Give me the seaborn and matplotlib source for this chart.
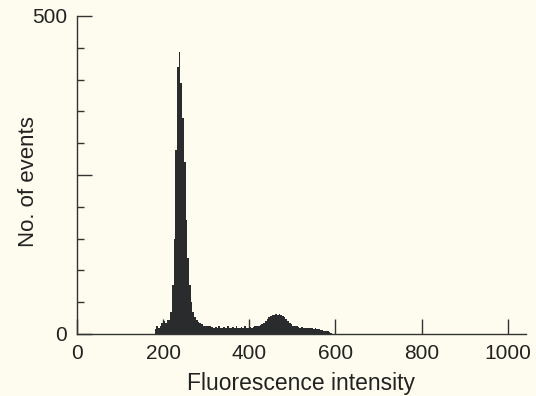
import numpy as np
import pandas as pd
import matplotlib.pyplot as plt
import seaborn as sns

# ---- data: event counts per channel (4 units wide, starting at 180) ----
bin_start = 180
bin_width = 4
counts = [
    8, 12, 10, 12, 18, 20, 18, 22, 22, 35,          # 180-216
    77, 150, 289, 420, 444, 395, 340, 270, 180, 120,  # 220-256
    77, 50, 35, 27, 22, 19, 18, 15, 13, 13,          # 260-296
    12, 13, 12, 11, 10, 11, 10, 12, 10, 10,          # 300-336
    11, 10, 12, 10, 10, 11, 10, 12, 10, 10,          # 340-376
    11, 10, 12, 10, 10, 11, 10, 11, 12, 12,          # 380-416
    13, 14, 16, 18, 20, 23, 26, 28, 30, 30,          # 420-456
    31, 30, 31, 30, 29, 27, 24, 21, 18, 15,          # 460-496
    13, 12, 12, 11, 10, 11, 10, 9, 10, 9,            # 500-536
    10, 9, 8, 9, 8, 8, 7, 6, 5, 5,                   # 540-576
    4, 3, 2,                                         # 580-588
]
bin_end = bin_start + bin_width * len(counts)
df = pd.DataFrame({
    "intensity": bin_start + bin_width * (np.arange(len(counts)) + 0.5),
    "events": counts,
})

x_ticks = [0, 200, 400, 600, 800, 1000]
y_major = [0, 250, 500]
y_labels = ["0", "", "500"]

# ---- style ----
bg = "#fdfcee"
ink = "#2a2b2c"
sns.set_style("ticks")
plt.rcParams["font.family"] = ["Liberation Sans", "DejaVu Sans"]

fig = plt.figure(figsize=(5.36, 3.96), dpi=100, facecolor=bg)
ax = fig.add_axes([0.1437, 0.1566, 0.8373, 0.803])
ax.set_facecolor(bg)

sns.histplot(data=df, x="intensity", weights="events",
             binwidth=bin_width, binrange=(bin_start, bin_end),
             element="step", fill=True, color=ink, alpha=1, linewidth=0, ax=ax)

ax.set_xlim(0, 1042)
ax.set_ylim(0, 500)
ax.set_xticks(x_ticks)
ax.set_xticklabels([str(t) for t in x_ticks])
ax.set_yticks(y_major)
ax.set_yticklabels(y_labels)
ax.set_yticks(np.arange(0, 501, 50), minor=True)

ax.tick_params(axis="x", direction="in", length=11, width=1, pad=7,
               labelsize=15, colors="#333333", labelcolor="#222222")
ax.tick_params(axis="y", which="major", direction="in", length=11, width=1,
               pad=7, labelsize=15, colors="#333333", labelcolor="#222222")
ax.tick_params(axis="y", which="minor", direction="in", length=5, width=1,
               colors="#333333")

for side in ["top", "right"]:
    ax.spines[side].set_visible(False)
for side in ["left", "bottom"]:
    ax.spines[side].set_color("#333333")
    ax.spines[side].set_linewidth(1)

ax.set_xlabel("Fluorescence intensity", fontsize=16.5, color="#222222", labelpad=7)
ax.set_ylabel("No. of events", fontsize=16, color="#222222")
ax.yaxis.set_label_coords(-0.084, 0.48)

fig.savefig("out.png", dpi=100, facecolor=bg)
